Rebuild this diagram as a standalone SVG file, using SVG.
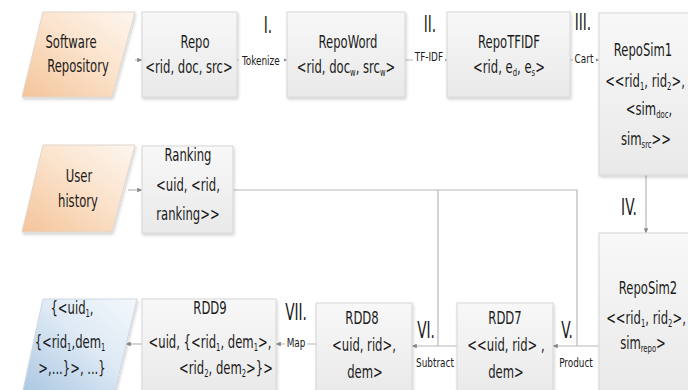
<svg xmlns="http://www.w3.org/2000/svg" width="688" height="390" viewBox="0 0 688 390">
<defs>
<linearGradient id="gBox" x1="0" y1="0" x2="0" y2="1"><stop offset="0" stop-color="#f8f8f8"/><stop offset="1" stop-color="#e9e9e9"/></linearGradient>
<linearGradient id="gOr" x1="1" y1="0" x2="0" y2="1"><stop offset="0" stop-color="#fdf6ef"/><stop offset="0.45" stop-color="#fbe3cc"/><stop offset="1" stop-color="#f4c49a"/></linearGradient>
<linearGradient id="gBl" x1="1" y1="0" x2="0" y2="1"><stop offset="0" stop-color="#f4f8fc"/><stop offset="0.45" stop-color="#dde9f4"/><stop offset="1" stop-color="#a9c6e2"/></linearGradient>
<filter id="sh" x="-10%" y="-10%" width="130%" height="130%"><feDropShadow dx="1" dy="2" stdDeviation="1.5" flood-color="#000" flood-opacity="0.18"/></filter>
<marker id="ar" viewBox="0 0 6 6" refX="6" refY="3" markerWidth="4" markerHeight="4" orient="auto"><path d="M0,0 L6,3 L0,6 z" fill="#888"/></marker>
</defs>
<style>
.box{fill:url(#gBox);stroke:#d6d6d6;stroke-width:1;filter:url(#sh)}
.or{fill:url(#gOr);stroke:#e0d6cc;stroke-width:1;filter:url(#sh)}
.bl{fill:url(#gBl);stroke:#cdd8e4;stroke-width:1;filter:url(#sh)}
text{font-family:"DejaVu Sans Condensed","Liberation Sans Narrow","Liberation Sans",sans-serif;font-stretch:condensed;fill:#1a1a1a;text-anchor:middle;transform-box:fill-box;transform-origin:center}
.t{font-size:17px;transform:scaleX(0.76)}
.lb{font-size:13px;transform:scaleX(0.76)}
.num{font-size:23px;transform:scaleX(0.66)}
.sub{font-size:10px}
.c{fill:none;stroke:#b8b8b8;stroke-width:1.2}
.ca{fill:none;stroke:#b8b8b8;stroke-width:1.2;marker-end:url(#ar)}
</style>
<g id="connectors">
<path class="ca" d="M135,60 H142"/>
<path class="ca" d="M237,60 H287"/>
<path class="ca" d="M405,60 H447"/>
<path class="ca" d="M570,60 H599"/>
<path class="ca" d="M646,175 V233"/>
<path class="ca" d="M128,190 H142"/>
<path class="c" d="M233,190 H577 V346"/>
<path class="c" d="M438,190 V346"/>
<path class="ca" d="M599,346 H553"/>
<path class="ca" d="M457,346 H412"/>
<path class="ca" d="M316,344 H276"/>
<path class="ca" d="M142,344 H126"/>
<rect x="239" y="54" width="45" height="13" fill="#fff"/>
<text class="lb" x="261" y="65">Tokenize</text>
<text class="num" x="268" y="33">I.</text>
<rect x="413" y="51" width="32" height="13" fill="#fff"/>
<text class="lb" x="429" y="61">TF-IDF</text>
<text class="num" x="430" y="32">II.</text>
<rect x="573" y="53" width="23" height="13" fill="#fff"/>
<text class="lb" x="584" y="63">Cart</text>
<text class="num" x="583" y="30">III.</text>
<text class="num" x="629" y="215">IV.</text>
<text class="num" x="567" y="338">V.</text>
<text class="lb" x="576" y="367">Product</text>
<text class="num" x="426" y="338">VI.</text>
<text class="lb" x="435" y="367">Subtract</text>
<text class="num" x="296" y="320">VII.</text>
<rect x="285" y="337" width="22" height="13" fill="#fff"/>
<text class="lb" x="296" y="347">Map</text>
</g>
<g id="software-repository">
<path class="or" d="M43,12 H135 L112,97 H22 Z"/>
<text class="t" x="71" y="48">Software</text>
<text class="t" x="78" y="72">Repository</text>
</g>
<g id="repo">
<rect class="box" x="142" y="12" width="95" height="85"/>
<text class="t" x="195" y="48">Repo</text>
<text class="t" x="189" y="73">&lt;rid, doc, src&gt;</text>
</g>
<g id="repoword">
<rect class="box" x="287" y="12" width="118" height="85"/>
<text class="t" x="348" y="48">RepoWord</text>
<text class="t" x="346" y="73">&lt;rid, doc<tspan class="sub" dy="3">w</tspan><tspan dy="-3">, src</tspan><tspan class="sub" dy="3">w</tspan><tspan dy="-3">&gt;</tspan></text>
</g>
<g id="repotfidf">
<rect class="box" x="447" y="12" width="123" height="85"/>
<text class="t" x="509" y="48">RepoTFIDF</text>
<text class="t" x="509" y="73">&lt;rid, e<tspan class="sub" dy="3">d</tspan><tspan dy="-3">, e</tspan><tspan class="sub" dy="3">s</tspan><tspan dy="-3">&gt;</tspan></text>
</g>
<g id="reposim1">
<rect class="box" x="599" y="13" width="95" height="162"/>
<text class="t" x="643" y="56">RepoSim1</text>
<text class="t" x="645" y="87">&lt;&lt;rid<tspan class="sub" dy="3">1</tspan><tspan dy="-3">, rid</tspan><tspan class="sub" dy="3">2</tspan><tspan dy="-3">&gt;,</tspan></text>
<text class="t" x="649" y="115">&lt;sim<tspan class="sub" dy="3">doc</tspan><tspan dy="-3">,</tspan></text>
<text class="t" x="646" y="145">sim<tspan class="sub" dy="3">src</tspan><tspan dy="-3">&gt;&gt;</tspan></text>
</g>
<g id="user-history">
<path class="or" d="M43,145 H135 L112,232 H22 Z"/>
<text class="t" x="79" y="182">User</text>
<text class="t" x="78" y="207">history</text>
</g>
<g id="ranking">
<rect class="box" x="142" y="146" width="91" height="87"/>
<text class="t" x="188" y="161">Ranking</text>
<text class="t" x="188" y="191">&lt;uid, &lt;rid,</text>
<text class="t" x="188" y="220">ranking&gt;&gt;</text>
</g>
<g id="reposim2">
<rect class="box" x="599" y="233" width="95" height="162"/>
<text class="t" x="648" y="294">RepoSim2</text>
<text class="t" x="646" y="324">&lt;&lt;rid<tspan class="sub" dy="3">1</tspan><tspan dy="-3">, rid</tspan><tspan class="sub" dy="3">2</tspan><tspan dy="-3">&gt;,</tspan></text>
<text class="t" x="643" y="349">sim<tspan class="sub" dy="3">repo</tspan><tspan dy="-3">&gt;</tspan></text>
</g>
<g id="rdd7">
<rect class="box" x="457" y="303" width="96" height="92"/>
<text class="t" x="505" y="324">RDD7</text>
<text class="t" x="506" y="351">&lt;&lt;uid, rid&gt; ,</text>
<text class="t" x="506" y="378">dem&gt;</text>
</g>
<g id="rdd8">
<rect class="box" x="316" y="303" width="96" height="92"/>
<text class="t" x="362" y="324">RDD8</text>
<text class="t" x="364" y="351">&lt;uid, rid&gt;,</text>
<text class="t" x="365" y="378">dem&gt;</text>
</g>
<g id="rdd9">
<rect class="box" x="142" y="299" width="134" height="96"/>
<text class="t" x="210" y="314">RDD9</text>
<text class="t" x="210" y="348">&lt;uid, {&lt;rid<tspan class="sub" dy="3">1</tspan><tspan dy="-3">, dem</tspan><tspan class="sub" dy="3">1</tspan><tspan dy="-3">&gt;,</tspan></text>
<text class="t" x="226" y="374">&lt;rid<tspan class="sub" dy="3">2</tspan><tspan dy="-3">, dem</tspan><tspan class="sub" dy="3">2</tspan><tspan dy="-3">&gt;}&gt;</tspan></text>
</g>
<g id="output">
<path class="bl" d="M43,299 H137 L114,395 H22 Z"/>
<text class="t" x="72" y="314">{&lt;uid<tspan class="sub" dy="3">1</tspan><tspan dy="-3">,</tspan></text>
<text class="t" x="70" y="348">{&lt;rid<tspan class="sub" dy="3">1</tspan><tspan dy="-3">,dem</tspan><tspan class="sub" dy="3">1</tspan></text>
<text class="t" x="72" y="374">&gt;,...}&gt;, ...}</text>
</g>
</svg>
